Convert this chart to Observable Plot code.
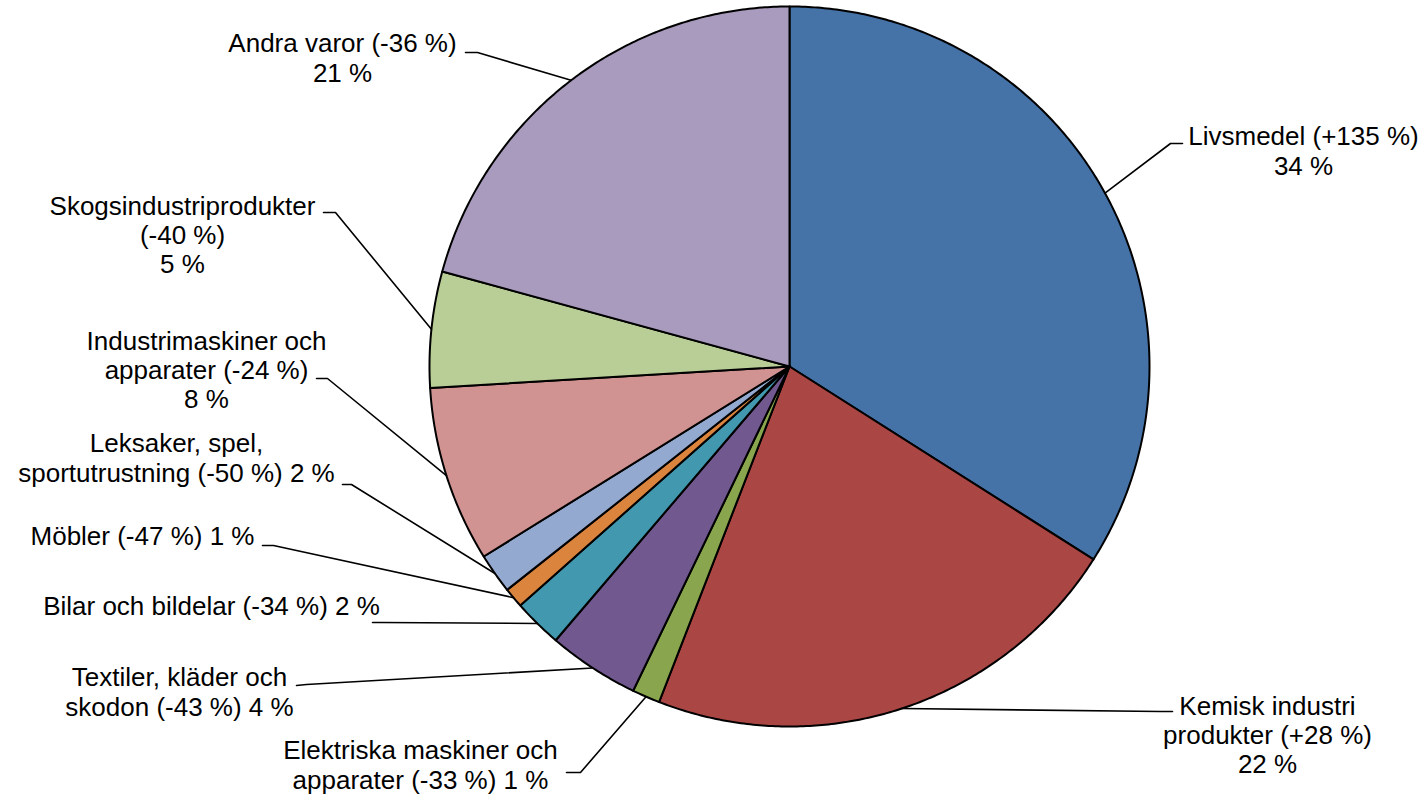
<!DOCTYPE html>
<html>
<head>
<meta charset="utf-8">
<script src="https://cdn.jsdelivr.net/npm/d3@7"></script>
<script src="https://cdn.jsdelivr.net/npm/@observablehq/plot@0.6"></script>
<style>
  html, body { margin: 0; padding: 0; background: #fff; }
  #chart svg { display: block; }
</style>
</head>
<body>
<div id="chart"></div>
<script>
// ---- data ----
const categories = ["Livsmedel", "Kemisk industri produkter", "Elektriska maskiner och apparater",
  "Textiler, kläder och skodon", "Bilar och bildelar", "Möbler", "Leksaker, spel, sportutrustning",
  "Industrimaskiner och apparater", "Skogsindustriprodukter", "Andra varor"];
const shares = [34.0, 21.9, 1.25, 4.1, 2.2, 0.9, 1.8, 7.9, 5.2, 20.75];
const labelTexts = [
  "Livsmedel (+135 %)\n34 %",
  "Kemisk industri\nprodukter (+28 %)\n22 %",
  "Elektriska maskiner och\napparater (-33 %) 1 %",
  "Textiler, kläder och\nskodon (-43 %) 4 %",
  "Bilar och bildelar (-34 %) 2 %",
  "Möbler (-47 %) 1 %",
  "Leksaker, spel,\nsportutrustning (-50 %) 2 %",
  "Industrimaskiner och\napparater (-24 %)\n8 %",
  "Skogsindustriprodukter\n(-40 %)\n5 %",
  "Andra varor (-36 %)\n21 %"
];
const colors = ["#4572A7", "#AA4643", "#89A54E", "#71588F", "#4198AF", "#DB843D", "#93A9CF", "#D19392", "#B9CD96", "#A99BBD"];

// ---- layout (pixel-space) ----
const W = 1428, H = 798;
const cx = 789, cy = 366, R = 360;
const labelPos = [[1303,150],[1267,734],[420,764],[179,691],[211,605],[142,535],[176,457],[206,369],[182,234],[342,57]];
const leaderElbow = [[1170,143],[1160,711],[580,772],[306,684],[380,622],[273,545],[351,484],[327,378],[335,212],[477,52]];
const leaderEnd = [[1182,143],[1172,711],[566,772],[296,685],[372,622],[262,545],[342,484],[316,378],[323,212],[465,52]];

const arcs = d3.pie().sort(null).value(d => d)(shares);
const pt = (a, r) => [cx + r * Math.sin(a), cy - r * Math.cos(a)];

const marks = [];
arcs.forEach((a, i) => {
  const pts = [[cx, cy]];
  const n = Math.max(2, Math.ceil((a.endAngle - a.startAngle) / (Math.PI / 360)));
  for (let k = 0; k <= n; k++) pts.push(pt(a.startAngle + (a.endAngle - a.startAngle) * k / n, R));
  pts.push([cx, cy]);
  marks.push(Plot.line(pts, {x: d => d[0], y: d => d[1], fill: colors[i], stroke: "#000", strokeWidth: 2, strokeLinejoin: "round", curve: "linear"}));
});
arcs.forEach((a, i) => {
  const mid = (a.startAngle + a.endAngle) / 2;
  const pts = [pt(mid, R), leaderElbow[i], leaderEnd[i]];
  marks.push(Plot.line(pts, {x: d => d[0], y: d => d[1], stroke: "#000", strokeWidth: 1.6}));
});
const labels = labelTexts.map((t, i) => ({t, x: labelPos[i][0], y: labelPos[i][1], name: categories[i]}));
marks.push(Plot.text(labels, {x: "x", y: "y", text: "t", fill: "#000", fontSize: 26, lineHeight: 1.13, textAnchor: "middle"}));

const chart = Plot.plot({
  width: W, height: H,
  margin: 0,
  x: {domain: [0, W], range: [0, W], axis: null},
  y: {domain: [0, H], range: [0, H], axis: null},
  style: {fontFamily: "'Liberation Sans', Arial, sans-serif", background: "#fff"},
  marks
});
document.getElementById("chart").appendChild(chart);
</script>
</body>
</html>
